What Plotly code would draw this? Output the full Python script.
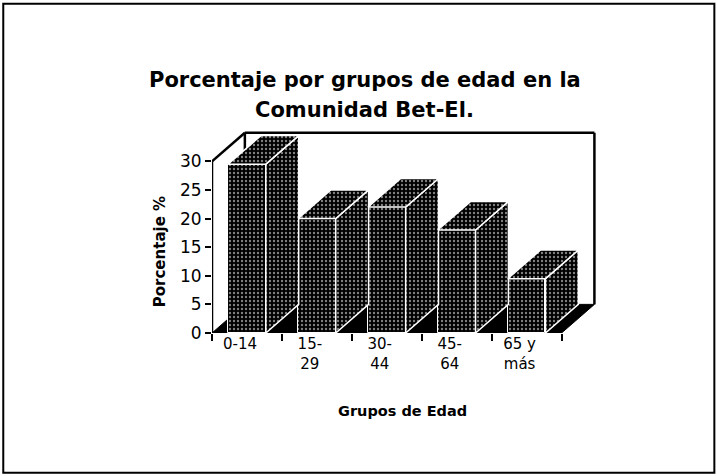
import plotly.graph_objects as go

# ---- data ----
categories = ["0-14", "15-<br>29", "30-<br>44", "45-<br>64", "65 y<br>más"]
values = [29.5, 20.0, 22.0, 18.0, 9.5]
y_ticks = [0, 5, 10, 15, 20, 25, 30]

title_lines = ["Porcentaje por grupos de edad en la", "Comunidad Bet-El."]
x_title = "Grupos de Edad"
y_title = "Porcentaje %"

# ---- style / geometry ----
W, H = 717, 476
BAR_W = 0.54      # bar width (category units)
DX = 0.47         # depth offset in x (category units)
DZ = 5.0          # depth offset in y (data units)
Y_MAX = 30
FONT = "DejaVu Sans"

pattern = dict(shape=".", fgcolor="white", bgcolor="black", size=4, solidity=0.28)

fig = go.Figure()

# front faces
fig.add_trace(go.Bar(
    x=categories, y=values, width=BAR_W,
    marker=dict(color="black", pattern=pattern, line=dict(color="white", width=1)),
    showlegend=False, hoverinfo="skip",
))

# side and top faces (numeric overlay axis)
for i, v in enumerate(values):
    xr = i + BAR_W / 2
    xl = i - BAR_W / 2
    side_x = [xr, xr + DX, xr + DX, xr, xr]
    side_y = [0, DZ, v + DZ, v, 0]
    top_x = [xl, xr, xr + DX, xl + DX, xl]
    top_y = [v, v, v + DZ, v + DZ, v]
    for px, py in ((side_x, side_y), (top_x, top_y)):
        fig.add_trace(go.Scatter(
            x=px, y=py, xaxis="x2", yaxis="y", mode="lines",
            fill="toself", fillcolor="black", fillpattern=pattern,
            line=dict(color="white", width=1.5),
            showlegend=False, hoverinfo="skip",
        ))

n = len(categories)
x0, x1 = -0.5, n - 0.5
shapes = []
# floor (dark)
shapes.append(dict(type="path", xref="x2", yref="y", layer="below",
                   path=f"M {x0},0 L {x1},0 L {x1+DX},{DZ} L {x0+DX},{DZ} Z",
                   fillcolor="black", line=dict(color="black", width=1)))
wall_line = dict(color="black", width=2.5)
for (ax0, ay0, ax1, ay1) in [
    (x0, 0, x0, Y_MAX),
    (x0, Y_MAX, x0 + DX, Y_MAX + DZ),
    (x0 + DX, DZ, x0 + DX, Y_MAX + DZ),
    (x0 + DX, Y_MAX + DZ, x1 + DX, Y_MAX + DZ),
    (x1 + DX, DZ, x1 + DX, Y_MAX + DZ),
    (x0, 0, x1, 0),
]:
    shapes.append(dict(type="line", xref="x2", yref="y", layer="below",
                       x0=ax0, y0=ay0, x1=ax1, y1=ay1, line=wall_line))

L, R, T, B = 212, 116.5, 126.6, 143
PW, PH = W - L - R, H - T - B
XR = [-0.5, 5.05]
YR = [0, 36]

def px_x(x):
    return (x - L) / PW

def px_y(y):
    return (H - B - y) / PH

# outer border (paper coords are relative to the plot area)
shapes.append(dict(type="rect", xref="paper", yref="paper", layer="above",
                   x0=px_x(3), y0=px_y(473), x1=px_x(715), y1=px_y(3),
                   line=dict(color="black", width=2)))

annotations = []
for line, ypix in zip(title_lines, (80, 110)):
    annotations.append(dict(text=f"<b>{line}</b>", xref="paper", yref="paper",
                            x=px_x(365), y=px_y(ypix),
                            xanchor="center", yanchor="middle", showarrow=False,
                            font=dict(size=21, family=FONT)))
annotations += [
    dict(text=f"<b>{x_title}</b>", xref="paper", yref="paper",
         x=px_x(403), y=px_y(411),
         xanchor="center", yanchor="middle", showarrow=False,
         font=dict(size=14.5, family=FONT)),
    dict(text=f"<b>{y_title}</b>", xref="paper", yref="paper",
         x=px_x(160), y=px_y(252),
         xanchor="center", yanchor="middle", textangle=-90, showarrow=False,
         font=dict(size=15, family=FONT)),
]

fig.update_layout(
    width=W, height=H,
    margin=dict(l=L, r=R, t=T, b=B, autoexpand=False),
    paper_bgcolor="white", plot_bgcolor="white",
    font=dict(family=FONT, color="black"),
    bargap=0,
    xaxis=dict(type="category", range=XR, tickson="boundaries", ticks="outside",
               ticklen=7, tickwidth=2, tickcolor="black", showgrid=False,
               zeroline=False, showline=False, tickfont=dict(size=15),
               ticklabelshift=-7, fixedrange=True),
    xaxis2=dict(overlaying="x", range=XR, visible=False, fixedrange=True),
    yaxis=dict(range=YR, tickvals=y_ticks, ticks="outside", ticklen=6, tickwidth=2,
               tickcolor="black", showgrid=False, zeroline=False, showline=False,
               tickfont=dict(size=17), fixedrange=True),
    shapes=shapes,
    annotations=annotations,
)

fig.write_html("out.html", config={"displayModeBar": False},
               post_script="document.body.style.margin='0';")
